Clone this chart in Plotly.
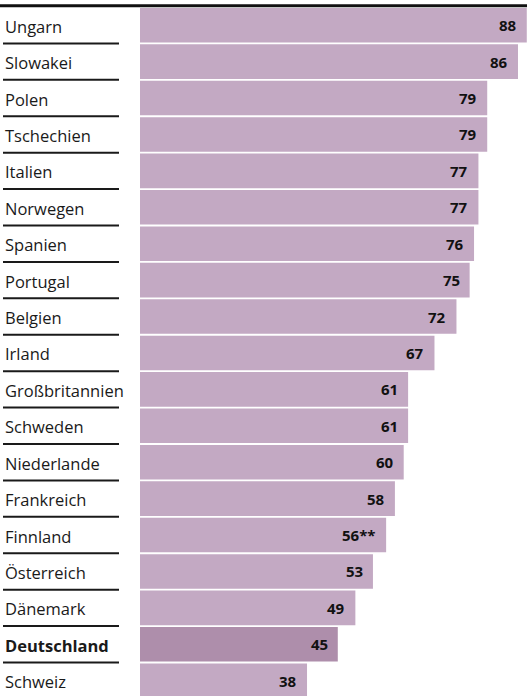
import plotly.graph_objects as go

countries = ["Ungarn", "Slowakei", "Polen", "Tschechien", "Italien", "Norwegen",
             "Spanien", "Portugal", "Belgien", "Irland", "Großbritannien", "Schweden",
             "Niederlande", "Frankreich", "Finnland", "Österreich", "Dänemark",
             "Deutschland", "Schweiz"]
values = [88, 86, 79, 79, 77, 77, 76, 75, 72, 67, 61, 61, 60, 58, 56, 53, 49, 45, 38]
value_labels = ["88", "86", "79", "79", "77", "77", "76", "75", "72", "67", "61", "61",
                "60", "58", "56**", "53", "49", "45", "38"]
highlight = "Deutschland"

W, H = 527, 696
L, T = 140, 7
PW = W - L
PH = H - T

BAR = "#c3a9c3"
BAR_HI = "#ae8eab"
FONT = "Open Sans, Noto Sans, sans-serif"

colors = [BAR_HI if c == highlight else BAR for c in countries]

fig = go.Figure()
fig.add_trace(go.Bar(
    y=countries, x=values, orientation="h",
    marker=dict(color=colors, line=dict(width=0)),
    hoverinfo="skip", cliponaxis=True,
))

annotations = []
shapes = []
for i, (c, v, lab) in enumerate(zip(countries, values, value_labels)):
    annotations.append(dict(
        x=v, y=c, xref="x", yref="y", text="<b>" + lab + "</b>",
        showarrow=False, xanchor="right", yanchor="middle", xshift=-8, yshift=0,
        font=dict(family=FONT, size=15, color="#111111"),
    ))
    name = "<b>" + c + "</b>" if c == highlight else c
    annotations.append(dict(
        x=(3 - L) / PW, y=c, xref="paper", yref="y", text=name,
        showarrow=False, xanchor="left", yanchor="middle", yshift=-1,
        font=dict(family=FONT, size=16.5, color="#1a1a1a"),
    ))
    if i < len(countries) - 1:
        shapes.append(dict(
            type="line", xref="paper", yref="y",
            x0=(3 - L) / PW, x1=(119 - L) / PW, y0=i + 0.5, y1=i + 0.5,
            line=dict(color="#1a1a1a", width=2),
        ))

shapes.append(dict(
    type="line", xref="paper", yref="paper",
    x0=-L / PW, x1=1, y0=1 + 1.2 / PH, y1=1 + 1.2 / PH,
    line=dict(color="#111111", width=3),
))

fig.update_layout(
    width=W, height=H,
    margin=dict(l=L, r=0, t=T, b=0, pad=0),
    paper_bgcolor="white", plot_bgcolor="white",
    showlegend=False, bargap=0.05,
    xaxis=dict(range=[0, 88.05], visible=False, fixedrange=True),
    yaxis=dict(categoryorder="array", categoryarray=countries,
               range=[18.42, -0.5], visible=False, fixedrange=True),
    annotations=annotations, shapes=shapes,
)

fig.write_html(
    "out.html",
    config={"displayModeBar": False},
    post_script="document.body.style.margin='0';document.body.style.overflow='hidden';",
)
